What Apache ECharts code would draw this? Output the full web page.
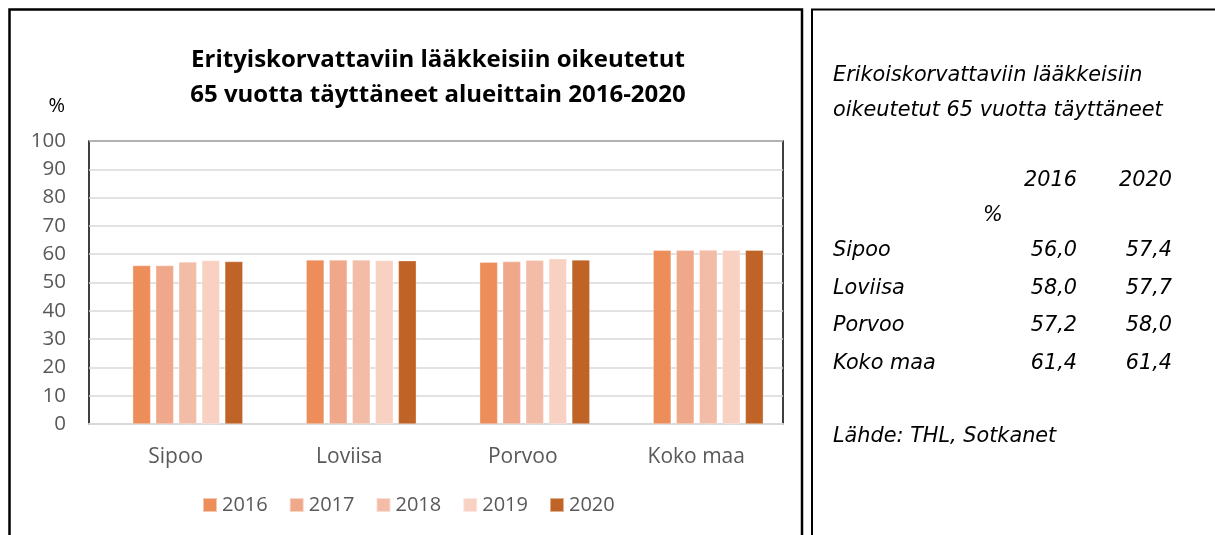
<!DOCTYPE html>
<html>
<head>
<meta charset="utf-8">
<style>
  html, body { margin: 0; padding: 0; background: #fff; }
  #chart { width: 1215px; height: 535px; }
</style>
<script src="https://cdn.jsdelivr.net/npm/echarts@6/dist/echarts.min.js"></script>
</head>
<body>
<div id="chart"></div>
<script>
// Regions and years
const categories = ['Sipoo', 'Loviisa', 'Porvoo', 'Koko maa'];
const years = ['2016', '2017', '2018', '2019', '2020'];

// Share (%) of people aged 65+ entitled to special-rate reimbursed medicines
const v2016 = [56.0, 58.0, 57.2, 61.4];
const v2017 = [56.0, 58.0, 57.4, 61.4];
const v2018 = [57.3, 58.0, 57.9, 61.5];
const v2019 = [57.8, 57.8, 58.4, 61.4];
const v2020 = [57.4, 57.7, 58.0, 61.4];

const yTicks = [0, 10, 20, 30, 40, 50, 60, 70, 80, 90, 100];

const colors = ['#ED8E5A', '#F0A88B', '#F3BCA7', '#F8D1C3', '#BF6326'];
const seriesValues = [v2016, v2017, v2018, v2019, v2020];

const FONT = '"Open Sans", Lato, sans-serif';
const PANEL_FONT = '"DejaVu Sans", "Open Sans", sans-serif';
const fmt = v => v.toFixed(1).replace('.', ',');

const chart = echarts.init(document.getElementById('chart'), null, { renderer: 'canvas' });

// side panel: heading, small table of 2016 / 2020 values, source
const tableRows = categories.map((c, i) => [c, v2016[i], v2020[i]]);
const rowY = [251, 289, 326, 364];
const panelText = [];
const italic = { fontFamily: PANEL_FONT, fontStyle: 'italic', fontSize: 20.8, fill: '#000' };
const t = (text, x, y, align) => ({
  type: 'text', x: x, y: y,
  style: Object.assign({ text: text, align: align, verticalAlign: 'middle' }, italic)
});
panelText.push(t('Erikoiskorvattaviin lääkkeisiin', 833, 76, 'left'));
panelText.push(t('oikeutetut 65 vuotta täyttäneet', 833, 111, 'left'));
panelText.push(t('2016', 1077, 181, 'right'));
panelText.push(t('2020', 1172, 181, 'right'));
panelText.push(t('%', 993, 216, 'center'));
tableRows.forEach((r, i) => {
  panelText.push(t(r[0], 833, rowY[i], 'left'));
  panelText.push(t(fmt(r[1]), 1077, rowY[i], 'right'));
  panelText.push(t(fmt(r[2]), 1172, rowY[i], 'right'));
});
panelText.push(t('Lähde: THL, Sotkanet', 833, 437, 'left'));

const option = {
  animation: false,
  backgroundColor: '#fff',
  textStyle: { fontFamily: FONT },
  title: {
    text: 'Erityiskorvattaviin lääkkeisiin oikeutetut\n65 vuotta täyttäneet alueittain 2016-2020',
    left: 438,
    top: 43,
    padding: 0,
    textAlign: 'center',
    textStyle: { fontFamily: FONT, fontWeight: 'bold', fontSize: 24, color: '#000', lineHeight: 35 }
  },
  legend: {
    data: years,
    left: 202,
    top: 495,
    padding: 0,
    itemWidth: 14,
    itemHeight: 14,
    itemGap: 21,
    icon: 'rect',
    textStyle: { fontFamily: FONT, fontSize: 20, color: '#595959' }
  },
  grid: [
    { left: 89, top: 141, right: 432, height: 283, show: true, borderColor: '#000', borderWidth: 1.5, containLabel: false, outerBoundsMode: 'none' },
    { left: 101, top: 141, right: 420, height: 283, show: false, containLabel: false, outerBoundsMode: 'none' }
  ],
  xAxis: [
    {
      gridIndex: 0, type: 'category', data: categories,
      axisLine: { show: true, lineStyle: { color: '#D9D9D9', width: 2 } },
      axisTick: { show: false },
      axisLabel: { fontFamily: FONT, fontSize: 21, color: '#595959', margin: 23 }
    },
    {
      gridIndex: 1, type: 'category', data: categories,
      axisLine: { show: false }, axisTick: { show: false }, axisLabel: { show: false }
    }
  ],
  yAxis: [
    {
      gridIndex: 0, type: 'value', min: yTicks[0], max: yTicks[yTicks.length - 1], interval: 10,
      name: '%', nameLocation: 'end', nameGap: 25,
      nameTextStyle: { fontFamily: FONT, fontSize: 20, color: '#000', align: 'right', padding: [0, 24, 0, 0] },
      axisLine: { show: false }, axisTick: { show: false },
      axisLabel: { fontFamily: FONT, fontSize: 20.5, color: '#595959', margin: 23 },
      splitLine: { lineStyle: { color: '#D9D9D9', width: 1.5 } }
    },
    {
      gridIndex: 1, type: 'value', min: yTicks[0], max: yTicks[yTicks.length - 1], interval: 10,
      show: false, splitLine: { show: false }
    }
  ],
  series: years.map((y, i) => ({
    name: y,
    type: 'bar',
    xAxisIndex: 1,
    yAxisIndex: 1,
    data: seriesValues[i],
    barWidth: 18,
    barGap: '28%',
    itemStyle: { color: colors[i], borderColor: 'rgba(255,255,255,0.5)', borderWidth: 0.6 }
  })),
  color: colors,
  graphic: [
    { type: 'rect', shape: { x: 9.5, y: 9.5, width: 792.5, height: 540 }, style: { fill: 'none', stroke: '#000', lineWidth: 2.5 }, z: 100 },
    { type: 'rect', shape: { x: 812, y: 9.5, width: 420, height: 540 }, style: { fill: 'none', stroke: '#000', lineWidth: 2 }, z: 100 }
  ].concat(panelText)
};

chart.setOption(option);
</script>
</body>
</html>
